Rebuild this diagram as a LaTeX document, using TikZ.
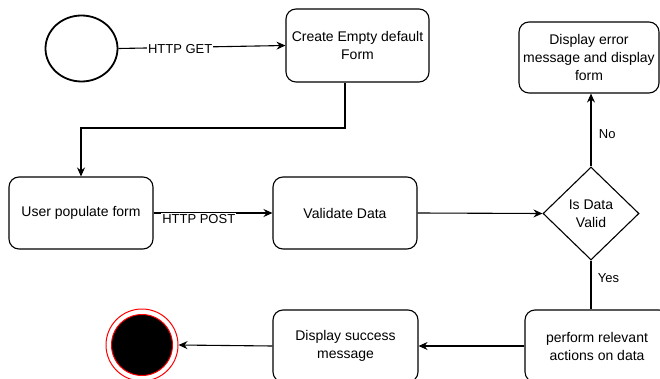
\documentclass[tikz,border=0pt]{standalone}
\usepackage{fontspec}
\setmainfont{Liberation Sans}
\usetikzlibrary{shapes.geometric,arrows.meta}
\begin{document}
\begin{tikzpicture}[x=1pt,y=-1pt,
  box/.style={draw,line width=1.1pt,rounded corners=10pt,align=center,font=\fontsize{14}{18}\selectfont,inner sep=2pt},
  conn/.style={line width=1.1pt},
  arr/.style={conn,-{Stealth[length=9pt,width=8pt,inset=3pt]}},
  lbl/.style={font=\fontsize{13}{15}\selectfont,fill=white,inner sep=1pt}]
\clip (0,0) rectangle (660,379);
\useasboundingbox (0,0) rectangle (660,379);
\node[ellipse,draw,line width=1.8pt,minimum width=72pt,minimum height=66pt,inner sep=0] (start) at (81.5,48.5) {};
\node[box,minimum width=143pt,minimum height=73pt] (create) at (357.5,45.5) {Create Empty default\\Form};
\node[box,minimum width=144pt,minimum height=72pt] (user) at (81,213) {User populate form};
\node[box,minimum width=144pt,minimum height=72pt] (validate) at (345,213) {Validate Data};
\node[diamond,draw,line width=1.1pt,aspect=1,inner sep=0,minimum width=96pt,minimum height=93pt,align=center,font=\fontsize{14}{18}\selectfont] (valid) at (591,213.5) {Is Data\\Valid};
\node[box,minimum width=140pt,minimum height=71pt] (error) at (589,57.5) {Display error\\message and display\\form};
\node[box,minimum width=144pt,minimum height=72pt] (perform) at (597,346) {perform relevant\\actions on data};
\node[box,minimum width=145pt,minimum height=72pt] (success) at (345.5,346) {Display success\\message};
\node[circle,draw=red,line width=1pt,minimum size=72pt,inner sep=0] (end) at (142,345) {};
\fill[black,draw=red,line width=1pt] (end.center) circle (30.5pt);
\coordinate (bend) at (345,128);
\draw[arr] (start.east) -- (create.west) node[lbl,pos=0.37,yshift=-2pt] {HTTP GET};
\draw[arr] (create.south -| bend) -- (bend) -| (user.north);
\draw[arr] (user.east) -- (validate.west) node[lbl,pos=0.38,yshift=-6pt] {HTTP POST};
\draw[arr] (validate.east) -- (valid.west);
\draw[arr] (valid.north) -- (valid.north |- error.south) node[pos=0.45,right=4pt,font=\fontsize{13}{15}\selectfont] {No};
\draw[conn] (valid.south) -- (valid.south |- perform.north) node[pos=0.36,right=3pt,font=\fontsize{13}{15}\selectfont] {Yes};
\draw[arr] (perform.west) -- (success.east);
\draw[arr] (success.west) -- (end.east);
\end{tikzpicture}
\end{document}
